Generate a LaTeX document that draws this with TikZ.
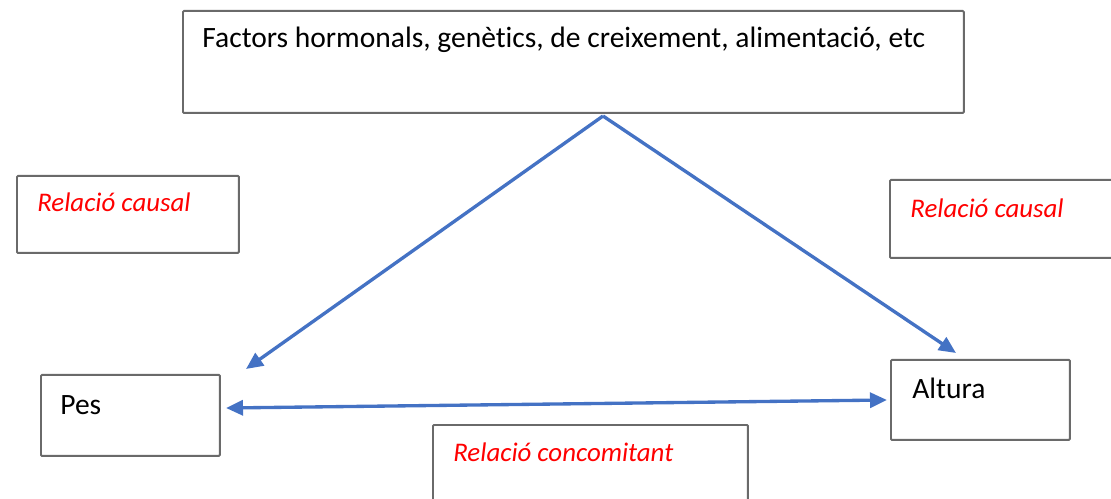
\documentclass[tikz,border=0pt]{standalone}
\usepackage{fontspec}
\setmainfont{Carlito}[Ligatures=NoCommon]
\usetikzlibrary{arrows.meta,positioning}
\definecolor{officeblue}{HTML}{4472C4}
\definecolor{boxgray}{HTML}{6A6A6A}

\begin{document}
\begin{tikzpicture}[x=0.02cm,y=-0.02cm,>={Triangle[length=0.34cm,width=0.3cm]},
    every node/.style={font=\fontsize{16.8}{20}\selectfont}]
        \tikzstyle{box}=[draw=boxgray,line width=1.1pt,rounded corners=0.6pt,anchor=north west,inner sep=0pt]
        \tikzstyle{label}=[anchor=west,inner sep=0pt,text=black]
        \tikzstyle{relation}=[label,text=red,font=\fontsize{15.3}{18}\selectfont\itshape]
        \tikzstyle{link}=[officeblue,line width=1.9pt]
        \clip (0,0) rectangle (1111,499);

        \node[box,minimum width=15.62cm,minimum height=2.04cm] (factors)  at (182,10)  {};
        \node[box,minimum width=4.44cm, minimum height=1.54cm] (causalL)  at (16,175)  {};
        \node[box,minimum width=4.50cm, minimum height=1.56cm] (causalR)  at (889,179) {};
        \node[box,minimum width=3.58cm, minimum height=1.62cm] (pes)      at (40,374)  {};
        \node[box,minimum width=3.58cm, minimum height=1.60cm] (altura)   at (890,359) {};
        \node[box,minimum width=6.30cm, minimum height=2.20cm] (concom)   at (432,424) {};

        \node[label]    (factorstext) at (202,40)  {Factors hormonals, genètics, de creixement, alimentació, etc};
        \node[relation] (causalLtext) at (37,202)  {Relació causal};
        \node[relation] (causalRtext) at (910,208) {Relació causal};
        \node[label]    (pestext)     at (60,405)  {Pes};
        \node[label]    (alturatext)  at (912,388) {Altura};
        \node[relation] (concomtext)  at (453,452) {Relació concomitant};

        \coordinate (apex)     at (603,116);
        \coordinate (pesin)    at (246,369);
        \coordinate (alturain) at (956,353);
        \coordinate (pesend)   at (226,408);
        \coordinate (altend)   at (887,400);

        \draw[link,->]  (apex) -- (pesin);
        \draw[link,->]  (apex) -- (alturain);
        \draw[link,<->] (pesend) -- (altend);
\end{tikzpicture}
\end{document}
